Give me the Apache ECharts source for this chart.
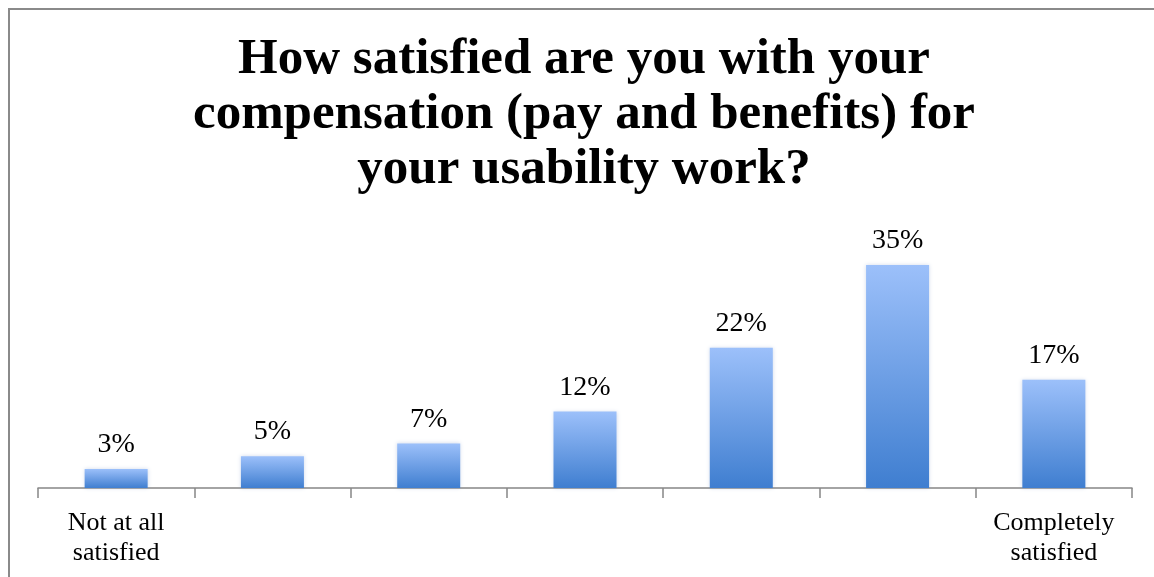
<!DOCTYPE html>
<html>
<head>
<meta charset="utf-8">
<script src="https://cdn.jsdelivr.net/npm/echarts@6/dist/echarts.min.js"></script>
<style>
  html, body { margin: 0; padding: 0; background: #ffffff; }
  #chart { width: 1154px; height: 577px; }
</style>
</head>
<body>
<div id="chart"></div>
<script>
// Survey responses on a 7-point satisfaction scale (share of respondents, %)
const categories = ['1', '2', '3', '4', '5', '6', '7'];
const tickLabels = ['Not at all\nsatisfied', '', '', '', '', '', 'Completely\nsatisfied'];
const shares = [3, 5, 7, 12, 22, 35, 17];

const titleText = 'How satisfied are you with your\ncompensation (pay and benefits) for\nyour usability work?';
const serif = 'Liberation Serif, DejaVu Serif, serif';

const chart = echarts.init(document.getElementById('chart'), null, { renderer: 'canvas' });

chart.setOption({
  animation: false,
  backgroundColor: '#ffffff',
  graphic: [{
    type: 'rect',
    silent: true,
    shape: { x: 9, y: 9, width: 1200, height: 600 },
    style: { fill: 'none', stroke: '#8a8a8a', lineWidth: 2 }
  }, {
    type: 'text',
    silent: true,
    x: 584,
    y: 32,
    style: {
      text: titleText,
      fill: '#000000',
      fontFamily: serif,
      fontWeight: 'bold',
      fontSize: 51,
      lineHeight: 55,
      align: 'center',
      verticalAlign: 'top'
    }
  }],
  grid: { left: 38, right: 22, top: 233, bottom: 89 },
  xAxis: {
    type: 'category',
    data: categories,
    boundaryGap: true,
    axisLine: { lineStyle: { color: '#878787', width: 1.5 } },
    axisTick: { show: true, interval: 0, length: 10, lineStyle: { color: '#878787', width: 1.5 } },
    axisLabel: {
      interval: 0,
      margin: 20,
      fontFamily: serif,
      fontSize: 26,
      lineHeight: 30,
      color: '#000000',
      formatter: (v, i) => tickLabels[i]
    }
  },
  yAxis: {
    type: 'value',
    min: 0,
    max: 40,
    show: false,
    splitLine: { show: false }
  },
  series: [{
    type: 'bar',
    data: shares,
    barWidth: 63,
    itemStyle: {
      color: new echarts.graphic.LinearGradient(0, 0, 0, 1, [
        { offset: 0, color: '#9cc0fa' },
        { offset: 1, color: '#3f7ed0' }
      ]),
      shadowColor: 'rgba(120,150,200,0.35)',
      shadowBlur: 4
    },
    label: {
      show: true,
      position: 'top',
      distance: 10,
      fontFamily: serif,
      fontSize: 28,
      color: '#000000',
      formatter: p => p.value + '%'
    }
  }]
});
</script>
</body>
</html>
